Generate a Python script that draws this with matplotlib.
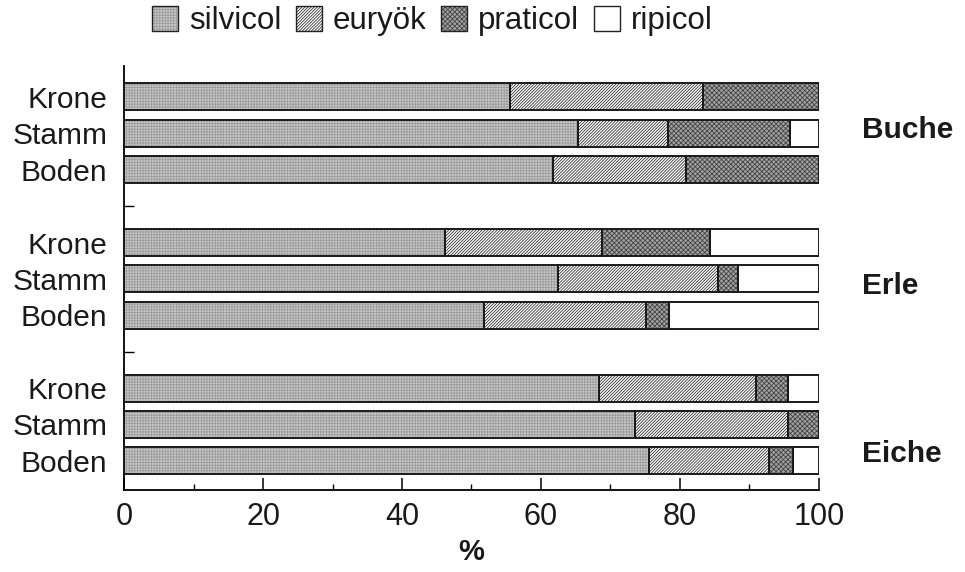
import numpy as np
import matplotlib
matplotlib.use("Agg")
import matplotlib.pyplot as plt
from matplotlib.patches import Patch
from matplotlib.legend_handler import HandlerTuple
from matplotlib.transforms import blended_transform_factory

plt.rcParams["font.family"] = ["Liberation Sans", "DejaVu Sans"]
plt.rcParams["hatch.linewidth"] = 0.6

# data (percent), bars listed top to bottom
groups = ["Buche", "Erle", "Eiche"]
strata = ["Krone", "Stamm", "Boden"]
categories = ["silvicol", "euryök", "praticol", "ripicol"]

silvicol = [55.6, 65.3, 61.7, 46.2, 62.5, 51.8, 68.3, 73.5, 75.5]
euryoek = [27.7, 13.0, 19.1, 22.6, 23.0, 23.3, 22.6, 22.1, 17.3]
praticol = [16.7, 17.5, 19.2, 15.5, 2.8, 3.3, 4.6, 4.4, 3.4]
ripicol = [0.0, 4.2, 0.0, 15.7, 11.7, 21.6, 4.5, 0.0, 3.8]

series = [silvicol, euryoek, praticol, ripicol]

# styles: facecolor, hatch, hatch colour
styles = [
    ("#c8c8c8", "+" * 6, "#9c9c9c"),
    ("#ffffff", "/" * 11, "#363636"),
    ("#a2a2a2", "x" * 7, "#444444"),
    ("#ffffff", None, "#ffffff"),
]

# positions: three bars per group, one empty slot between groups
pos = []
for g in range(len(groups)):
    for s in range(len(strata)):
        pos.append(g * 4 + s)
pos = np.array(pos)

fig = plt.figure(figsize=(9.65, 5.72), dpi=100)
ax = fig.add_axes([0.1285, 0.1434, 0.7202, 0.7412])

left = np.zeros(len(pos))
for vals, (fc, hatch, hc) in zip(series, styles):
    vals = np.array(vals)
    ax.barh(pos, vals, left=left, height=0.74, color=fc, hatch=hatch,
            edgecolor=hc, linewidth=0, zorder=2)
    ax.barh(pos, vals, left=left, height=0.74, fill=False,
            edgecolor="#1a1a1a", linewidth=1.4, zorder=3)
    left += vals

ax.set_xlim(0, 100)
ax.set_ylim(10.8, -0.85)

ax.spines["top"].set_visible(False)
ax.spines["right"].set_visible(False)
ax.spines["left"].set_linewidth(1.3)
ax.spines["bottom"].set_linewidth(1.3)

ax.set_xticks(np.arange(0, 101, 20))
ax.set_xticks(np.arange(10, 100, 20), minor=True)
ax.tick_params(axis="x", which="major", direction="in", length=9, width=1.1,
               labelsize=22, pad=9, labelcolor="#1a1a1a")
ax.tick_params(axis="x", which="minor", direction="in", length=4.5, width=1.0)

yt = np.arange(0, 11)
ylabels = []
for i in yt:
    ylabels.append(strata[i % 4] if i % 4 < 3 else "")
ax.set_yticks(yt)
ax.set_yticklabels(ylabels)
ax.tick_params(axis="y", direction="in", length=7, width=1.0,
               labelsize=21.5, pad=12, labelcolor="#1a1a1a")

ax.set_xlabel("%", fontsize=21, fontweight="bold", labelpad=4, color="#1a1a1a")

trans = blended_transform_factory(ax.transAxes, ax.transData)
group_y = [0.9, 5.2, 9.8]
for name, gy in zip(groups, group_y):
    ax.text(1.062, gy, name, transform=trans, ha="left", va="center",
            fontsize=21.5, fontweight="bold", color="#1a1a1a")

# legend: hatched patch with a separate black outline on top
handles = []
for fc, hatch, hc in styles:
    fill = Patch(facecolor=fc, hatch=hatch, edgecolor=hc, linewidth=0)
    outline = Patch(fill=False, edgecolor="#222222", linewidth=1.0)
    handles.append((fill, outline))
leg = fig.legend(handles, categories, loc="center", bbox_to_anchor=(0.448, 0.963),
                 ncol=4, frameon=False, fontsize=22.5, handlelength=0.85,
                 handleheight=0.85, handletextpad=0.35, columnspacing=0.45,
                 borderpad=0.1, handler_map={tuple: HandlerTuple(ndivide=1)})
for t in leg.get_texts():
    t.set_color("#1a1a1a")

fig.savefig("out.png", dpi=100, facecolor="white")
